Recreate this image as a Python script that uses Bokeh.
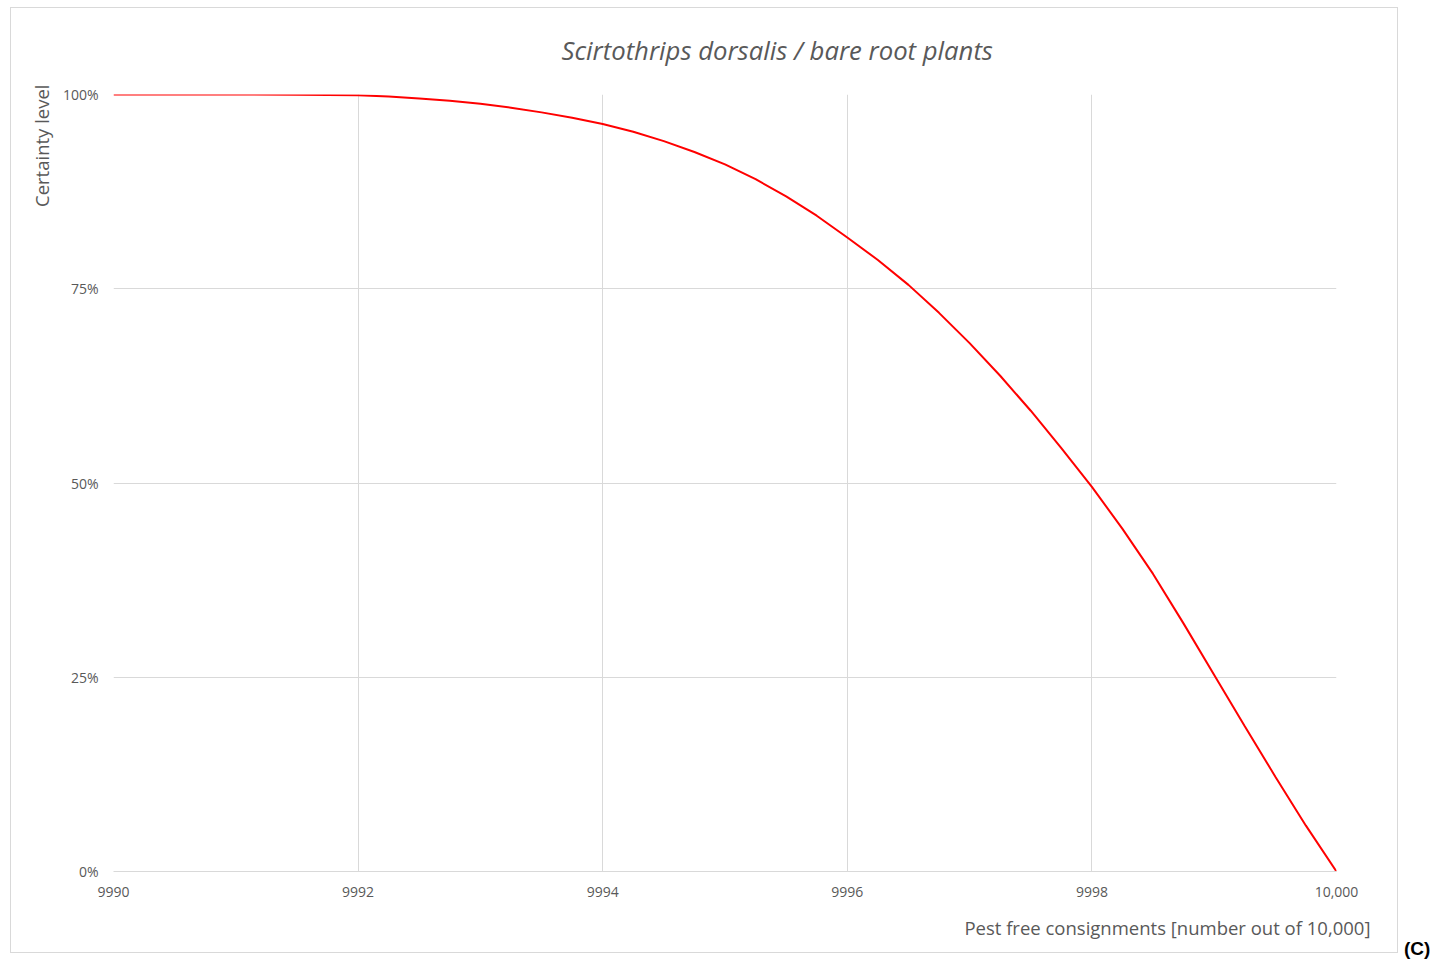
from bokeh.plotting import figure
from bokeh.models import Range1d, FixedTicker, Title, Div
from bokeh.layouts import row
from bokeh.embed import file_html
from bokeh.resources import INLINE

# Data
consignments = [9990, 9990.5, 9991, 9991.5, 9992, 9992.25, 9992.5, 9992.75, 9993, 9993.25,
                9993.5, 9993.75, 9994, 9994.25, 9994.5, 9994.75, 9995, 9995.25, 9995.5,
                9995.75, 9996, 9996.25, 9996.5, 9996.75, 9997, 9997.25, 9997.5, 9997.75,
                9998, 9998.25, 9998.5, 9998.75, 9999, 9999.25, 9999.5, 9999.75, 10000]
certainty = [100.0, 100.0, 100.0, 99.97, 99.9, 99.75, 99.5, 99.2, 98.8, 98.3,
             97.7, 97.0, 96.2, 95.2, 94.0, 92.6, 91.0, 89.1, 86.9,
             84.4, 81.6, 78.7, 75.5, 71.9, 68.0, 63.8, 59.3, 54.5,
             49.5, 44.1, 38.3, 31.9, 25.3, 18.7, 12.2, 5.9, 0.0]
x_ticks = [9990, 9992, 9994, 9996, 9998, 10000]
x_tick_labels = ["9990", "9992", "9994", "9996", "9998", "10,000"]
y_ticks = [0, 25, 50, 75, 100]
y_tick_labels = ["0%", "25%", "50%", "75%", "100%"]

title_text = "Scirtothrips dorsalis / bare root plants"
x_label = "Pest free consignments [number out of 10,000]"
y_label = "Certainty level"
panel_tag = "(C)"

TXT = "#595959"
GRID = "#d9d9d9"
FONT = "Open Sans"

p = figure(width=1388, height=946, output_backend="svg", toolbar_location=None,
           x_range=Range1d(9990, 10000), y_range=Range1d(0, 100),
           min_border_left=102, min_border_right=63, min_border_top=86, min_border_bottom=83)
p.styles = {"border": "1px solid #d9d9d9"}
p.margin = (7, 0, 0, 10)
p.outline_line_color = None
p.background_fill_color = "white"
p.border_fill_color = "white"

p.line(consignments, certainty, line_color="#ff0000", line_width=2)

# axes
p.xaxis.ticker = FixedTicker(ticks=x_ticks)
p.xaxis.major_label_overrides = {t: l for t, l in zip(x_ticks, x_tick_labels)}
p.yaxis.ticker = FixedTicker(ticks=y_ticks)
p.yaxis.major_label_overrides = {t: l for t, l in zip(y_ticks, y_tick_labels)}
for ax in (p.xaxis, p.yaxis):
    ax.major_tick_line_color = None
    ax.minor_tick_line_color = None
    ax.major_label_text_color = TXT
    ax.major_label_text_font = FONT
    ax.major_label_text_font_size = "14px"
p.xaxis.axis_line_color = GRID
p.yaxis.axis_line_color = None
p.xaxis.major_label_standoff = 9
p.yaxis.major_label_standoff = 9

p.xgrid.ticker = FixedTicker(ticks=x_ticks)
p.ygrid.ticker = FixedTicker(ticks=y_ticks)
p.xgrid.grid_line_color = GRID
p.ygrid.grid_line_color = GRID

# title
p.title.text = title_text
p.title.align = "left"
p.title.vertical_align = "top"
p.title.offset = 448
p.title.standoff = 49
p.title.text_font = FONT
p.title.text_font_style = "italic"
p.title.text_font_size = "25.7px"
p.title.text_color = TXT

# axis titles
p.add_layout(Title(text=x_label, align="right", offset=-34, standoff=26,
                   text_font=FONT, text_font_style="normal", text_font_size="18.5px",
                   text_color=TXT), "below")
p.add_layout(Title(text=y_label, align="right", offset=-10, standoff=12,
                   text_font=FONT, text_font_style="normal", text_font_size="18.5px",
                   text_color=TXT), "left")

tag = Div(text=panel_tag, width=34, height=24, margin=(935, 0, 0, 6),
          styles={"font-family": "Liberation Sans", "font-weight": "bold",
                  "font-size": "19px", "color": "black"})

layout = row(p, tag)
open("out.html", "w").write(file_html(layout, INLINE))
